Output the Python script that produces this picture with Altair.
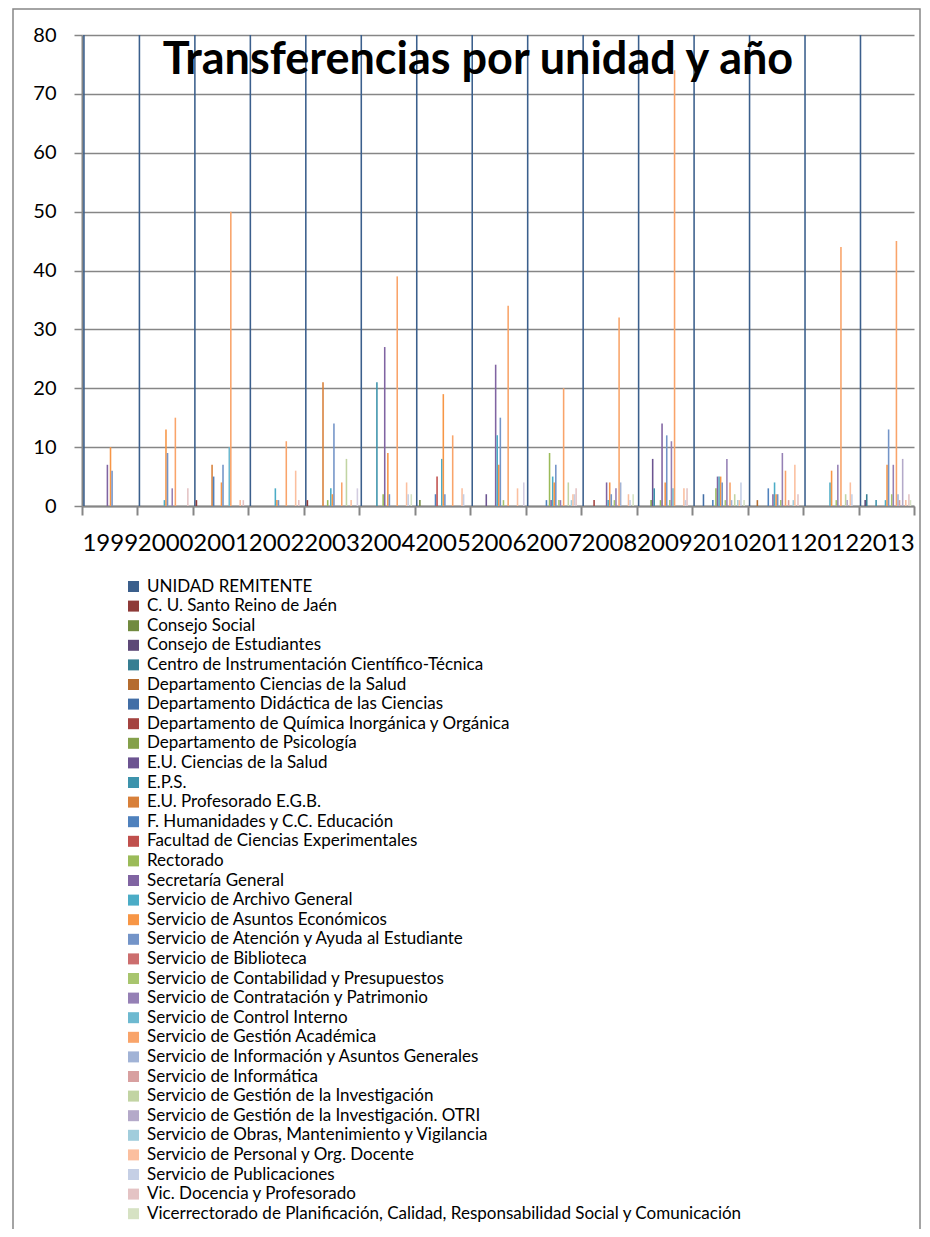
import altair as alt
import pandas as pd

years = [1999, 2000, 2001, 2002, 2003, 2004, 2005, 2006, 2007, 2008, 2009, 2010, 2011, 2012, 2013]

series_names = [
    "UNIDAD REMITENTE",
    "C. U. Santo Reino de Jaén",
    "Consejo Social",
    "Consejo de Estudiantes",
    "Centro de Instrumentación Científico-Técnica",
    "Departamento Ciencias de la Salud",
    "Departamento Didáctica de las Ciencias",
    "Departamento de Química Inorgánica y Orgánica",
    "Departamento de Psicología",
    "E.U. Ciencias de la Salud",
    "E.P.S.",
    "E.U. Profesorado E.G.B.",
    "F. Humanidades y C.C. Educación",
    "Facultad de Ciencias Experimentales",
    "Rectorado",
    "Secretaría General",
    "Servicio de Archivo General",
    "Servicio de Asuntos Económicos",
    "Servicio de Atención y Ayuda al Estudiante",
    "Servicio de Biblioteca",
    "Servicio de Contabilidad y Presupuestos",
    "Servicio de Contratación y Patrimonio",
    "Servicio de Control Interno",
    "Servicio de Gestión Académica",
    "Servicio de Información y Asuntos Generales",
    "Servicio de Informática",
    "Servicio de Gestión de la Investigación",
    "Servicio de Gestión de la Investigación. OTRI",
    "Servicio de Obras, Mantenimiento y Vigilancia",
    "Servicio de Personal y Org. Docente",
    "Servicio de Publicaciones",
    "Vic. Docencia y Profesorado",
    "Vicerrectorado de Planificación, Calidad, Responsabilidad Social y Comunicación",
    "Otros",
]

series_colors = [
    "#3B5F8C", "#8E3A38", "#718A3F", "#5D4877", "#367E92", "#B56C2F",
    "#426EA6", "#A44340", "#84A04A", "#6C5491", "#3D93AC", "#D8803A",
    "#4F81BD", "#C0504D", "#9BBB59", "#8064A2", "#4BACC6", "#F79646",
    "#7394C8", "#CC6E6E", "#A8C56E", "#9580B5", "#6DB9D0", "#F9A46A",
    "#A1B3D6", "#D8A0A0", "#C2D4A3", "#B4A9C9", "#A1CDDC", "#FBBF9F",
    "#C5CFE5", "#E4C3C4", "#D6E2C3", "#D3CDE0",
]

# values per series, one per year 1999..2013
counts = [
    [1999, 2000, 2001, 2002, 2003, 2004, 2005, 2006, 2007, 2008, 2009, 2010, 2011, 2012, 2013],
    [0, 0, 1, 0, 1, 0, 0, 0, 0, 0, 0, 0, 0, 0, 0],
    [0, 0, 0, 0, 0, 0, 1, 0, 0, 0, 0, 0, 0, 0, 0],
    [0, 0, 0, 0, 0, 0, 0, 0, 0, 0, 0, 0, 0, 0, 1],
    [0, 0, 0, 0, 0, 0, 0, 0, 0, 0, 0, 0, 0, 0, 2],
    [0, 0, 0, 0, 0, 0, 0, 0, 0, 0, 0, 0, 1, 0, 0],
    [0, 0, 0, 0, 0, 0, 0, 0, 0, 0, 0, 2, 0, 0, 0],
    [0, 0, 0, 0, 0, 0, 0, 0, 0, 1, 0, 0, 0, 0, 0],
    [0, 0, 0, 0, 0, 0, 0, 0, 0, 0, 1, 0, 0, 0, 0],
    [0, 0, 0, 0, 0, 0, 0, 2, 0, 0, 8, 0, 0, 0, 0],
    [0, 0, 0, 0, 0, 21, 0, 0, 0, 0, 3, 0, 0, 0, 1],
    [0, 0, 7, 0, 21, 0, 0, 0, 0, 0, 0, 0, 0, 0, 0],
    [0, 0, 5, 0, 0, 0, 2, 0, 1, 0, 0, 1, 3, 0, 0],
    [0, 0, 0, 0, 0, 0, 5, 0, 0, 0, 0, 0, 0, 0, 0],
    [0, 0, 0, 0, 1, 2, 0, 0, 9, 0, 1, 3, 0, 0, 0],
    [7, 0, 0, 0, 0, 27, 0, 24, 1, 4, 14, 5, 2, 0, 0],
    [0, 1, 0, 3, 3, 0, 8, 12, 5, 1, 0, 5, 4, 4, 1],
    [10, 13, 4, 1, 2, 9, 19, 7, 4, 4, 4, 5, 2, 6, 7],
    [6, 9, 7, 1, 14, 2, 2, 15, 7, 2, 12, 4, 2, 0, 13],
    [0, 0, 0, 0, 0, 0, 0, 0, 0, 0, 0, 0, 0, 0, 0],
    [0, 0, 0, 0, 0, 0, 0, 1, 1, 1, 1, 1, 1, 1, 2],
    [0, 3, 0, 0, 0, 0, 0, 0, 1, 3, 11, 8, 9, 7, 7],
    [0, 0, 10, 0, 0, 0, 0, 0, 0, 0, 3, 0, 0, 0, 0],
    [0, 15, 50, 11, 4, 39, 12, 34, 20, 32, 74, 4, 6, 44, 45],
    [0, 0, 0, 0, 0, 0, 0, 0, 0, 4, 0, 1, 0, 0, 2],
    [0, 0, 0, 0, 0, 0, 0, 0, 0, 0, 0, 0, 1, 0, 1],
    [0, 0, 0, 0, 8, 0, 0, 0, 4, 0, 0, 2, 0, 2, 0],
    [0, 0, 0, 0, 0, 0, 0, 0, 0, 0, 0, 0, 0, 1, 8],
    [0, 0, 0, 0, 0, 0, 0, 0, 1, 0, 0, 1, 1, 0, 0],
    [0, 0, 1, 6, 1, 4, 3, 3, 2, 2, 3, 1, 7, 4, 1],
    [0, 0, 0, 0, 0, 2, 2, 0, 2, 1, 1, 4, 0, 2, 0],
    [0, 3, 1, 1, 0, 0, 0, 0, 3, 0, 3, 0, 2, 0, 2],
    [0, 0, 0, 0, 0, 2, 0, 0, 0, 2, 0, 1, 0, 0, 1],
    [0, 0, 0, 0, 3, 0, 0, 4, 0, 0, 0, 0, 0, 0, 0],
]

y_ticks = [0, 10, 20, 30, 40, 50, 60, 70, 80]
title_text = "Transferencias por unidad y año"

rows = []
for name, vals in zip(series_names, counts):
    for yr, v in zip(years, vals):
        if v:
            rows.append({"anio": str(yr), "serie": name, "valor": v})
df = pd.DataFrame(rows)

GRAY = "#868686"
FONT = "Lato"

bars = alt.Chart(df).mark_bar(clip=True).encode(
    x=alt.X("anio:O", sort=[str(y) for y in years],
            scale=alt.Scale(domain=[str(y) for y in years], paddingInner=0, paddingOuter=0),
            axis=alt.Axis(title=None, labelAngle=0, labelOverlap=False, labelFlush=False,
                          labelFont=FONT, labelFontSize=24, labelColor="black",
                          labelPadding=16, tickBand="extent", tickSize=9,
                          tickColor=GRAY, tickWidth=2, domainColor=GRAY, domainWidth=2,
                          grid=False)),
    xOffset=alt.XOffset("serie:N", sort=series_names,
                        scale=alt.Scale(domain=series_names, paddingInner=0, paddingOuter=0.75)),
    y=alt.Y("valor:Q", scale=alt.Scale(domain=[0, 80], nice=False),
            axis=alt.Axis(title=None, values=y_ticks, labelFont=FONT, labelFontSize=20,
                          labelColor="black", labelPadding=18, tickSize=8, tickColor=GRAY,
                          tickWidth=1.5, domainColor=GRAY, domainWidth=2,
                          grid=True, gridColor=GRAY, gridWidth=1.5)),
    color=alt.Color("serie:N", sort=series_names,
                    scale=alt.Scale(domain=series_names, range=series_colors),
                    legend=alt.Legend(values=series_names[:-1], title=None, orient="none",
                                      legendX=43, legendY=543, padding=0, symbolLimit=0,
                                      labelFont=FONT, labelFontSize=17, labelColor="black",
                                      labelLimit=0, symbolType="square", symbolSize=121,
                                      symbolStrokeWidth=0, rowPadding=1.6, labelOffset=5)),
)

title_df = pd.DataFrame({"t": [title_text]})
title = alt.Chart(title_df).mark_text(
    font=FONT, fontSize=45, fontWeight="bold", color="black", align="center", baseline="alphabetic"
).encode(text="t:N", x=alt.value(396), y=alt.value(38.5))

frame = alt.Chart(title_df).mark_rect(
    fillOpacity=0, stroke=GRAY, strokeWidth=1.5, clip=False
).encode(x=alt.value(-69), x2=alt.value(838), y=alt.value(-26), y2=alt.value(1300))

chart = alt.layer(frame, bars, title).properties(
    width=832, height=471,
    autosize=alt.AutoSizeParams(type="none"),
    padding={"left": 74, "top": 27, "right": 8, "bottom": 723},
).configure_view(stroke=None)

chart.save("out.html", embed_options={"renderer": "svg", "actions": False})
